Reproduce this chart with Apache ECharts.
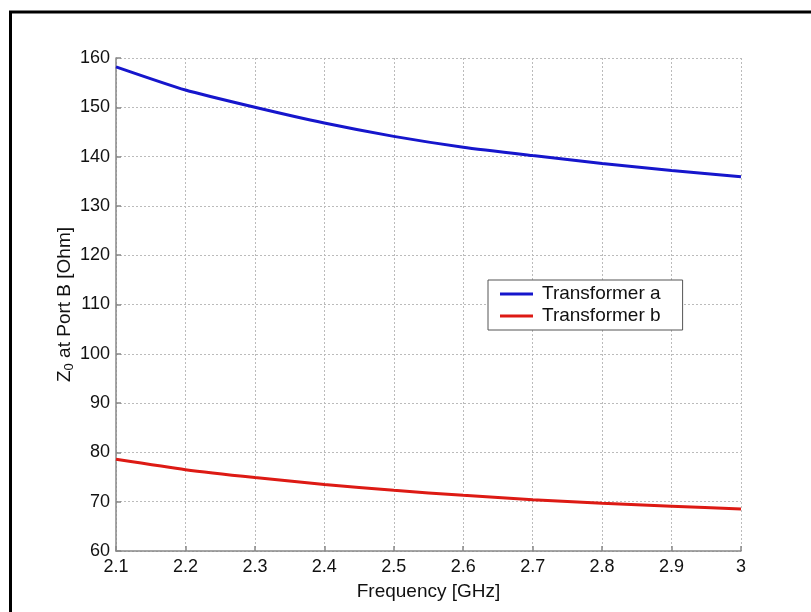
<!DOCTYPE html>
<html>
<head>
<meta charset="utf-8">
<script src="https://cdn.jsdelivr.net/npm/echarts@6/dist/echarts.min.js"></script>
<style>html,body{margin:0;padding:0;background:#fff;}#c{width:811px;height:612px;}</style>
</head>
<body>
<div id="c"></div>
<script>
var frequencies = [2.1, 2.2, 2.3, 2.4, 2.5, 2.6, 2.7, 2.8, 2.9, 3.0];
var transformerA = [158.2, 153.5, 150.0, 146.8, 144.1, 141.9, 140.2, 138.6, 137.2, 135.9];
var transformerB = [78.6, 76.5, 74.9, 73.5, 72.3, 71.3, 70.4, 69.7, 69.1, 68.5];
var seriesNames = ['Transformer a', 'Transformer b'];
var xAxisTitle = 'Frequency [GHz]';

function pairs(xs, ys) { return xs.map(function (x, i) { return [x, ys[i]]; }); }

var chart = echarts.init(document.getElementById('c'), null, {renderer: 'canvas'});
var font = 'Liberation Sans, Arial, sans-serif';
chart.setOption({
  animation: false,
  backgroundColor: '#fff',
  grid: {left: 116, right: 70, top: 58, bottom: 61, containLabel: false},
  graphic: [{
    type: 'rect', silent: true, z: 100,
    shape: {x: 10.5, y: 12, width: 900, height: 700},
    style: {fill: 'none', stroke: '#000', lineWidth: 3}
  }],
  legend: {
    orient: 'vertical', left: 488, top: 280,
    padding: [4, 22, 4, 12],
    backgroundColor: '#fff', borderColor: '#555', borderWidth: 1, borderRadius: 0,
    itemWidth: 33, itemHeight: 3, itemGap: 2,
    textStyle: {fontFamily: font, fontSize: 19, color: '#111', lineHeight: 20, padding: [0, 0, 0, 4]},
    data: [{name: seriesNames[0], icon: 'rect'}, {name: seriesNames[1], icon: 'rect'}]
  },
  xAxis: {
    type: 'value', min: 2.1, max: 3, interval: 0.1,
    name: xAxisTitle, nameLocation: 'middle', nameGap: 31, nameMoveOverlap: false,
    nameTextStyle: {fontFamily: font, fontSize: 19, color: '#111'},
    axisLine: {show: true, onZero: false, lineStyle: {color: '#888', width: 1.5}},
    axisTick: {show: true, inside: true, length: 5, lineStyle: {color: '#888', width: 1.5}},
    axisLabel: {fontFamily: font, fontSize: 18, color: '#111', margin: 7},
    splitLine: {show: true, lineStyle: {type: [2, 2], color: '#bbb', width: 1}}
  },
  yAxis: {
    type: 'value', min: 60, max: 160, interval: 10,
    name: '{a|Z}{s|0}{a| at Port B [Ohm]}', nameLocation: 'middle', nameGap: 40, nameRotate: 90,
    nameMoveOverlap: false,
    nameTextStyle: {
      fontFamily: font, fontSize: 19, color: '#111',
      rich: {
        a: {fontFamily: font, fontSize: 19, color: '#111'},
        s: {fontFamily: font, fontSize: 13, color: '#111', padding: [10, 0, 0, 0]}
      }
    },
    axisLine: {show: true, lineStyle: {color: '#888', width: 1.5}},
    axisTick: {show: true, inside: true, length: 5, lineStyle: {color: '#888', width: 1.5}},
    axisLabel: {fontFamily: font, fontSize: 18, color: '#111', margin: 6},
    splitLine: {show: true, lineStyle: {type: [2, 2], color: '#bbb', width: 1}}
  },
  series: [{
    name: seriesNames[0], type: 'line', data: pairs(frequencies, transformerA),
    smooth: 0.2, showSymbol: false, lineStyle: {color: '#1616cc', width: 3}, itemStyle: {color: '#1616cc'}
  }, {
    name: seriesNames[1], type: 'line', data: pairs(frequencies, transformerB),
    smooth: 0.2, showSymbol: false, lineStyle: {color: '#dd1a14', width: 3}, itemStyle: {color: '#dd1a14'}
  }]
});
</script>
</body>
</html>
